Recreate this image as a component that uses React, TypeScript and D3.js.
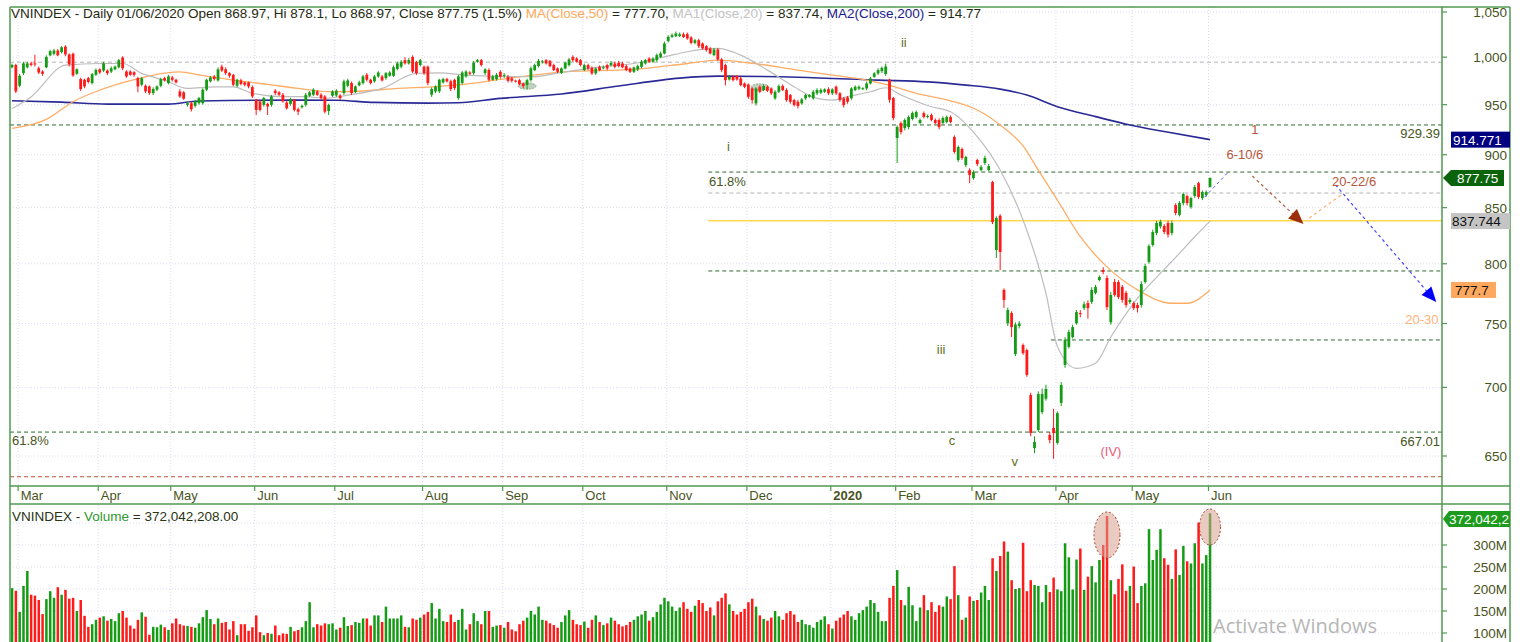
import React from "react";
import * as d3 from "d3";

type Bar = [number, number, number, number]; // open, high, low, close

// Feb 27 2019 .. May 2019
const ohlcA1: Bar[] = [
  [989.1,993,988,991.6],[991.6,993,962,963.7],[969.6,982,968,980.1],[982.9,995,981,993.3],[989.1,995,988,993.3],
  [993.3,995,990,991.6],[993.3,1002.7,990,992.2],[988.1,990,982,983.6],[984.6,986,980,982.2],[989.1,1002,988,1000.3],
  [1002,1008,1001,1006.5],[1003.7,1009,1002,1007.2],[1007.2,1009,1001,1002],[1005.5,1012,1004,1010.7],[1011.4,1013,1001,1003],
  [1003,1004,990,992.3],[1003.7,1005,979,980.4],[982.2,988,981,987],[976.6,978,964,966.2],[975.9,977,967,968.9],
  [977.6,979,972,973.5],[972.4,983,971,981.8],[981.1,988,980,986.3],[987,988,982,983.6],[985.6,995,984,993.3],
  [985.6,987,981,982.9],[984.6,990,983,988.1],[987,991,986,989.8],[989.1,998,988,996.8],[999.6,1001,986,988.1],
  [984.6,986,978,979.4],[984.6,986,980,981.1],[983.9,985,979,981.1],[977.6,979,962.7,968.9],[970.7,979,969,977.6],
  [969.6,971,962,963.7],[968.9,970,960,962],[962,968,960,966.2],[965.5,970,964,968.9],[969.6,978,968,976.6],
  [977.6,979,974,975.2],[972.4,981,971,979.4],[978.3,980,974,975.9],[975.9,977,972,973.1],[963.7,966,957,958.5],
  [962.7,964,955,956.1],[949.8,953,948,951.5],[951.5,953,943,945.3],[948.8,955,947,953.3],[951.5,958,950,956.8],
  [951.5,967,950,965.5],[965.5,977,964,975.9],[974.2,980,973,978.3],[979.4,981,975,976.6],[975.2,989,974,987],
  [989.8,992,984,985.6],[987,989,981,982.9],[982.9,984,978,980.1],[981.1,982,969,970.7],[969.6,977,968,975.9],
  [975.2,977,970,971.4],[973.1,974,969,970.7],[973.1,974,967,968.9],[968.2,970,957,958.5]
];
// Jun 2019 .. Aug 2019
const ohlcA2: Bar[] = [
  [955,956,939.4,944.6],[953.3,955,943,944.6],[949.8,958,948,956.8],[950.8,952,939.4,948.1],[949.8,960,948,958.5],
  [964.4,966,960,962],[962.7,964,959,960.2],[960.2,962,952,953.3],[952.2,954,945,946.3],[950.8,957,949,955.7],
  [955,956,943,944.6],[945.3,947,939.4,942.8],[947.4,950,946,948.8],[949.8,962,948,960.2],[959.2,964,958,962.7],
  [960.2,967,959,965.5],[963.7,965,959,960.2],[960.2,962,955,956.8],[958.5,960,941,942.8],[943.5,951,939.4,949.8],
  [959.2,965,958,963.7],[959.5,966,958,964.4],[959.5,961,955,956.8],[962,976,960,974.2],[969.6,977,968,975.2],
  [972.4,974,960,962],[963,970,962,968.9],[970,975,969,973.1],[972.4,981,971,979.4],[981.1,983,974,975.9],
  [975.9,977,971,972.4],[974.2,981,973,979.4],[979.4,985,978,983.6],[979.4,981,974,975.2],[977.6,984,976,982.9],
  [980.1,985,979,983.6],[980.1,991,979,989.1],[987.4,995,986,993.3],[989.8,997,988,995],[996.8,1000,992,993.3],
  [993.3,999,992,996.8],[1000.3,1002,983,984.6],[995,996,981,982.9],[991.6,998,990,996.8],[989.8,991,981,982.9],
  [989.8,991,970,972.4],[960.2,968,958,966.2],[963.7,970,962,968.9],[963.7,977,962,975.9],[973.1,978,972,976.6],
  [976.6,978,973,974.2],[974.2,976,964,966.2],[975.9,977,965,967.2],[956.8,981,955,979.4],[972.4,985,971,983.6],
  [979.4,986,978,984.6],[983.6,985,981,982.2],[982.9,996,981,994],[995,998,994,996.8],[996.8,998,990,991.6],
  [982.9,988,981,987],[986.3,988,974,975.9],[975.9,981,975,979.4],[976.6,983,975,981.1]
];
// Sep 2019 .. Jan 2020 (pre-Tet)
const ohlcB: Bar[] = [
  [984.3,986,977,979],[980,983,978,981],[979,981,973,974.8],[977.3,979,973,974.8],[975,976,973,974.5],
  [975.5,977,970,971.3],[972,973,967,969.3],[970.3,977,966,975.5],[975.5,990,974,988],[986.1,993,985,991.5],
  [990.4,998,989,996],[995,997,993,995.5],[996.8,998,992,993.2],[996,997,989,990.4],[991.5,993,985,986.1],
  [987.9,989,983,984.3],[983.2,989,982,987.9],[987.9,995,987,993.9],[991.5,999,990,997.5],[1000.3,1002,995,996.8],
  [998.6,1000,994,995],[996.8,998,990,991.5],[986.1,993,985,991.5],[991.5,993,986,987.9],[988.6,990,981,982.6],
  [982.6,989,981,987.9],[989.6,991,985,986.1],[988,991,987,989],[991.5,993,986,987.9],[991.5,996,990,993.9],
  [993.2,995,988,989.6],[993.9,996,989,990.4],[993.2,995,988,989.1],[990.4,992,985,986.1],[987.9,989,983,984.3],
  [984.3,990,983,988.9],[986.8,992,985,990.4],[989.6,997,988,995],[993.2,998,992,996.8],[998.6,1000,994,995],
  [995,1000,994,998.6],[996.8,1004,995,1002.2],[1000.3,1006,999,1004],[1004,1017,1003,1014.9],[1017.7,1024,1016,1022.2],
  [1022.2,1026,1021,1024.1],[1022.9,1028,1022,1026],[1023,1027,1022,1025],[1025,1027,1021,1022],[1025.2,1027,1019,1020.4],
  [1021.5,1023,1014,1015.5],[1015.5,1020,1014,1018.5],[1018.5,1020,1010,1012],[1014.9,1016,1008,1009.5],[1012,1013,1006,1007.7],
  [1009.5,1011,1003,1004],[1002.2,1010,1001,1008.4],[1008.4,1010,996,997.5],[997.5,999,984,986.1],[991.5,993,970,975.5],
  [976.2,981,975,979],[979,981,974,975.5],[979.7,981,975,976.2],[977.3,979,969,970.3],[972,973,967,968.5],
  [971,972,956,958.1],[966.8,968,951,954.7],[951.3,968,949,966.8],[968.5,970,962,963.3],[965.1,971,964,969.3],
  [968.5,970,963,964.4],[966.8,968,960,961.7],[956.5,965,955,963.3],[963.3,971,962,969.3],[969.3,971,964,965.1],
  [965.1,967,953,954.7],[959.9,961,951,953],[954.7,956,948,949.6],[953,955,946,948.6],[951.3,957,950,955.4],
  [956.5,961,955,959.9],[958.2,961,957,959.9],[956.5,965,955,963.3],[961.7,967,960,965.1],[962.4,967,961,965.1],
  [963.3,967,962,965.8],[966.1,968,960,961.7],[961.7,967,960,965.8],[968.5,970,960,961.7],[961.7,963,953,954.7],
  [956.5,958,947,949.6],[957.5,959,951,953],[956.5,968,955,966.8],[965.1,970,964,968.5],[966.5,970,965,968.5],
  [966,968,965,967],[966.8,974,965,972],[972,979,971,977.3],[979,984,978,982.6],[982.6,988,981,986.1],
  [985,990,983,988.5]
];
// Jan 22 2020 .. Jun 1 2020
const ohlcC: Bar[] = [
  [982,993,980,990],[976,977,952,955],[956.8,958,934,936.4],[916.4,929,892,927.3],[931.3,933,920,922.3],
  [926.3,936,924,934.4],[927.3,939,925,937.4],[935.4,943,934,941.4],[937.4,944,936,942.5],[931.4,936,930,934.4],
  [941.4,943,936,937.4],[937.4,940,936,938.4],[939.4,941,933,934.4],[934.4,936,930,931.4],[934.4,936,925,927.3],
  [931.4,938,930,936.4],[932.4,939,931,937.4],[937.4,939,931,932.4],[917.3,919,901,902.7],[894.9,909,893,907.5],
  [905.6,907,895,896.8],[890,899,888,897.8],[885.2,887,873,880.4],[877.6,885,876,883.3],[894.9,896,889,891],
  [885.2,890,884,888.1],[892,899,890,896.9],[885.2,891,884,889],[873.8,875,835,836.8],[812,842,805,840.6],
  [842.6,844,794.6,810.2],[777.7,779,762.6,769.3],[750.2,763,748,761],[758.5,760,739.1,747.1],[725.6,751,724,749.2],
  [748,752,746,750],[732.8,734,725,726.4],[728.8,730,708,709.5],[694.2,696,664,666.4],[655.6,664,652,660],
  [668.5,697,667,695],[681.6,699,680,695],[691.5,702,690,698.8],[664.9,667,659,661.3],[670,684,648,666.3],
  [659.3,682,658,680.8],[688.4,704,686,701.8],[717.1,739,715,736.8],[731.3,745,730,743.1],[739.1,749,738,747.1],
  [750.2,761,749,759.3],[758.5,761,755,757.6],[762.6,768,761,765.8],[766.8,769,754,762.6],[767.6,780,766,777.7],
  [775.2,782,774,780.3],[786.1,790,785,788.6],[794.6,797,791,792.9],[787.8,790,761,763.4],[751,776,749,773.5],
  [784.4,787,772,773.5],[784.4,786,770,771.8],[780.3,782,767,769.3],[775.2,777,763,765.1],[767.6,771,766,769.3],
  [766.8,768,761,762.6],[765.1,767,759,762.6],[765.1,785,763,782.7],[784.4,800,783,798.1],[801.6,817,800,815.5],
  [816.4,830,815,827.9],[827,838,825,836],[832.9,839,831,837.2],[833.3,835,826,827.9],[836,838,823,825.6],
  [827,838,825,836],[852.4,854,843,845],[843.4,856,842,854.2],[854.2,864,852,862.6],[860.7,862,852,854.2],
  [850.5,860,849,858.8],[860.7,871,859,869.1],[872.8,874,858,859.8],[858.8,866,857,864.4],[861.7,866,860,864.4],
  [868.97,878.1,868.97,877.75]
];

// Volumes in millions
const volA = [
  202,196,148,207,241,187,185,175,143,177,195,180,204,187,198,178,180,150,175,139,
  114,120,130,135,138,128,132,127,145,150,135,117,110,130,147,137,96,114,113,119,
  113,107,122,133,120,117,116,114,112,122,136,152,132,120,133,123,125,108,127,95,
  120,120,105,113,140,102,95,100,98,117,95,99,98,114,104,107,113,127,170,113,
  120,117,122,120,122,108,112,136,116,118,125,123,133,133,117,140,140,125,160,133,
  133,133,140,114,113,133,130,135,142,148,168,133,155,127,125,142,125,130,155,108,
  120,145,127,120,150,150,114,117
];
const volB = [
  118,112,125,108,104,120,128,135,150,142,160,130,128,
  122,118,112,125,140,152,130,120,118,126,112,130,140,125,118,122,135,128,120,115,
  118,125,130,138,142,150,128,136,148,165,180,172,160,150,158,170,155,148,162,175,
  168,150,158,140,172,180,190,165,150,142,148,155,170,178,160,140,132,128,135,150,
  138,130,145,150,142,125,130,120,118,112,125,130,138,120,110,128,135,142,150,138,130,145,152,160,175,168,148
];
const volC = [
  127,127,180,207,243,175,163,205,163,127,158,186,152,170,148,163,160,183,177,252,
  186,130,135,183,173,175,192,207,175,270,241,275,308,285,220,200,202,305,195,220,
  209,207,170,209,193,226,199,195,304,272,199,267,292,198,228,252,215,266,300,366,
  220,188,223,256,196,207,251,168,207,213,336,266,289,336,270,255,223,290,232,298,
  263,258,304,351,258,277,372.042208
];

const monthTicks = [2, 23, 42, 64, 85, 108, 129, 150, 172, 193, 215, 232, 252, 274, 294, 314];
const monthLabels = ["Mar", "Apr", "May", "Jun", "Jul", "Aug", "Sep", "Oct", "Nov", "Dec", "2020", "Feb", "Mar", "Apr", "May", "Jun"];
const priceTicks = [650, 700, 750, 800, 850, 900, 950, 1000, 1050];
const volTicks = [100, 150, 200, 250, 300];
const volGrid = [100, 150, 200, 250, 300, 350];

// moving averages: [bar index, value]
const ma200Pts: [number, number][] = [
  [0,954],[13,952.6],[25,950.6],[41,950.6],[49,953.7],[75,954.7],[85,954.5],[95,952.3],[109,951.6],[117,952],
  [128,956.5],[144,961],[159,969.3],[175,977.6],[185,979.7],[206,978.6],[227,975.5],[240,973.7],[250,970.3],
  [259,966.1],[266,959.9],[274,947.9],[284,937.8],[293,929.4],[302,922.8],[314,914.77]
];
const ma50Pts: [number, number][] = [
  [0,926],[9,935],[16,953],[23,965],[32,976],[40,983],[44,984.3],[49,981],[58,975.5],[67,971],[75,966.8],
  [84,963.3],[93,964.4],[101,966.8],[110,968.5],[119,971.3],[128,976.2],[145,984.3],[163,986.8],[177,993.2],
  [185,996.8],[193,994],[206,986.1],[215,980.8],[224,975.5],[229,971],[237,961.7],[246,954],[253,944.5],
  [259,929.4],[265,908.6],[269,885.2],[274,857],[280,823.7],[287,797.3],[295,777.7],[304,766.6],[308,766.6],[314,777.7]
];
const ma20Pts: [number, number][] = [
  [0,946],[5,958],[14,991.5],[23,993.2],[29,993.2],[34,982.6],[40,975.5],[46,966.8],[53,968.5],[58,968.5],
  [63,961.7],[71,958.2],[77,958.2],[82,956.5],[88,959.9],[97,966.8],[106,982.6],[112,983.2],[119,980.8],
  [128,979.4],[136,979.1],[145,984.3],[154,989.6],[163,993.2],[171,1000.3],[177,1005.9],[185,1009.5],
  [191,1002.2],[198,986.1],[205,968.5],[211,956.5],[215,954.7],[219,958.2],[225,963.3],[229,967.5],
  [233,960],[241,947.9],[246,942.8],[253,917.7],[259,885.2],[265,838.7],[271,775],[274,731.7],[279,714.6],
  [284,718.5],[288,739.2],[295,770.7],[301,791.8],[306,809.1],[310,823.7],[314,837.74]
];

const fullDashGreen = [929.39, 667.01];
const fullDashGrey = [994.6];
const fullDashRed = [635.6];
const partDashGreen = [883.3, 793.8];
const partDashGrey = [863.5];
const yellowLevel = 838;
const lateDashGreen = [736.8];

const FONT = "'Liberation Sans', Arial, sans-serif";
const FRAME = "#4f9a4f";
const AXT = "#47541c";
const GRID = "#dcdcf2";

export default function App() {
  const bars: Bar[] = [...ohlcA1, ...ohlcA2, ...ohlcB, ...ohlcC];
  const vols = [...volA, ...volB, ...volC];

  const L = 10, R = 1442, T = 7, B = 486, VT = 505, VB = 642, RR = 1510;
  const x = d3.scaleLinear().domain([0, 314]).range([12, 1210]);
  const y = d3.scaleLog().domain([650, 1050]).range([456, 12]);
  const yv = d3.scaleLinear().domain([100, 300]).range([633, 545]);

  const line = d3.line<[number, number]>().x(d => x(d[0])).y(d => y(d[1])).curve(d3.curveMonotoneX);
  const up = "#159c15", dn = "#ff1a1a";
  const fmt = d3.format(",");

  const arrowHead = (x0: number, y0: number, x1: number, y1: number, len: number, half: number) => {
    const a = Math.atan2(y1 - y0, x1 - x0);
    const bx = x1 - len * Math.cos(a), by = y1 - len * Math.sin(a);
    const px = -Math.sin(a) * half, py = Math.cos(a) * half;
    return `${x1},${y1} ${bx + px},${by + py} ${bx - px},${by - py}`;
  };

  const brownA = [[325.1, 879.5], [338.5, 835.2]];
  const orangeA = [[340, 840.5], [348.7, 862.6]];
  const blueA = [[346.9, 871.2], [373.3, 767.6]];
  const blueLead = [[312.6, 859.7], [318.8, 883.3]];

  const bx0 = x(brownA[0][0]), by0 = y(brownA[0][1]), bx1 = x(brownA[1][0]), by1 = y(brownA[1][1]);
  const ux0 = x(blueA[0][0]), uy0 = y(blueA[0][1]), ux1 = x(blueA[1][0]), uy1 = y(blueA[1][1]);

  const closeY = y(877.75);
  const volTagY = 519;

  return (
    <svg width={1520} height={642} style={{ position: "absolute", left: 0, top: 0, background: "#fff" }} fontFamily={FONT}>
      <defs>
        <clipPath id="pc"><rect x={L} y={T} width={R - L} height={B - T} /></clipPath>
        <clipPath id="vc"><rect x={L} y={VT} width={R - L} height={VB - VT + 5} /></clipPath>
        <clipPath id="rc"><rect x={R} y={0} width={RR - R} height={642} /></clipPath>
      </defs>
      <rect x={0} y={0} width={1520} height={642} fill="#fff" />

      {/* grids */}
      <g clipPath="url(#pc)">
        {priceTicks.map(p => (
          <line key={p} x1={L} x2={R} y1={y(p)} y2={y(p)} stroke={GRID} strokeDasharray="1,2" />
        ))}
        {monthTicks.map(i => (
          <line key={i} x1={x(i) - 1.5} x2={x(i) - 1.5} y1={T} y2={B} stroke={GRID} strokeDasharray="1,2" />
        ))}
      </g>
      <g clipPath="url(#vc)">
        {volGrid.map(v => (
          <line key={v} x1={L} x2={R} y1={yv(v)} y2={yv(v)} stroke={GRID} strokeDasharray="1,2" />
        ))}
        {monthTicks.map(i => (
          <line key={i} x1={x(i) - 1.5} x2={x(i) - 1.5} y1={VT} y2={VB} stroke={GRID} strokeDasharray="1,2" />
        ))}
      </g>

      {/* level lines */}
      <g clipPath="url(#pc)" strokeWidth={1}>
        {fullDashGrey.map(p => <line key={p} x1={L} x2={R} y1={y(p)} y2={y(p)} stroke="#b4b4b4" strokeDasharray="4,3" />)}
        {fullDashGreen.map(p => <line key={p} x1={L} x2={R} y1={y(p)} y2={y(p)} stroke="#2f6b2f" strokeDasharray="4,3" />)}
        {fullDashRed.map(p => <line key={p} x1={L} x2={R} y1={y(p)} y2={y(p)} stroke="#b9553a" strokeDasharray="4,3" />)}
        {partDashGreen.map(p => <line key={p} x1={x(182.5)} x2={R} y1={y(p)} y2={y(p)} stroke="#2f6b2f" strokeDasharray="4,3" />)}
        {partDashGrey.map(p => <line key={p} x1={x(182.5)} x2={R} y1={y(p)} y2={y(p)} stroke="#b4b4b4" strokeDasharray="4,3" />)}
        {lateDashGreen.map(p => <line key={p} x1={x(272.3)} x2={R} y1={y(p)} y2={y(p)} stroke="#2f6b2f" strokeDasharray="4,3" />)}
        <line x1={x(182.5)} x2={R} y1={y(yellowLevel)} y2={y(yellowLevel)} stroke="#ffd84a" strokeWidth={1.6} />
      </g>

      {/* moving averages */}
      <g clipPath="url(#pc)" fill="none">
        <path d={line(ma200Pts) || ""} stroke="#2a2a96" strokeWidth={1.6} />
        <path d={line(ma50Pts) || ""} stroke="#ffad66" strokeWidth={1.3} />
        <path d={line(ma20Pts) || ""} stroke="#bdbdbd" strokeWidth={1.2} />
      </g>

      {/* small highlight ellipses */}
      <g clipPath="url(#pc)">
        <ellipse cx={x(135)} cy={y(969.3)} rx={9} ry={3.2} fill="#b9cdb6" stroke="#8fae8a" strokeDasharray="2,1" opacity={0.9} />
        <ellipse cx={x(196)} cy={y(968)} rx={9} ry={3.5} fill="#b9cdb6" stroke="#8fae8a" strokeDasharray="2,1" opacity={0.9} />
      </g>

      {/* candles */}
      <g clipPath="url(#pc)">
        {bars.map((b, i) => {
          const [o, h, l, c] = b;
          const col = c >= o ? up : dn;
          const top = y(Math.max(o, c)), bot = y(Math.min(o, c));
          return (
            <g key={i}>
              <line x1={x(i)} x2={x(i)} y1={y(h)} y2={y(l)} stroke={col} strokeWidth={1} />
              <rect x={x(i) - 1.4} y={top} width={2.8} height={Math.max(1, bot - top)} fill={col} />
            </g>
          );
        })}
      </g>

      {/* projection arrows */}
      <g clipPath="url(#pc)">
        <line x1={x(blueLead[0][0])} y1={y(blueLead[0][1])} x2={x(blueLead[1][0])} y2={y(blueLead[1][1])} stroke="#5a5aff" strokeDasharray="3,3" />
        <line x1={bx0} y1={by0} x2={bx1 - 8} y2={by1 - 7.5} stroke="#b4603e" strokeDasharray="3,3" strokeWidth={1.2} />
        <polygon points={arrowHead(bx0, by0, bx1, by1, 15, 6.5)} fill="#9c2f08" />
        <line x1={x(orangeA[0][0])} y1={y(orangeA[0][1])} x2={x(orangeA[1][0])} y2={y(orangeA[1][1])} stroke="#ffb070" strokeDasharray="3,3" strokeWidth={1.2} />
        <line x1={ux0} y1={uy0} x2={ux1 - 7} y2={uy1 - 8} stroke="#4646ff" strokeDasharray="3,3" strokeWidth={1.2} />
        <polygon points={arrowHead(ux0, uy0, ux1, uy1, 15, 6.5)} fill="#0000ff" />
      </g>

      {/* annotation texts */}
      <g fontSize={13} clipPath="url(#pc)">
        <text x={x(233)} y={y(1011)} fill="#5e6e22">ii</text>
        <text x={x(187.4)} y={y(903.6)} fill="#5e6e22">i</text>
        <text x={x(242.4)} y={y(725.7)} fill="#5e6e22">iii</text>
        <text x={x(245.5)} y={y(657.7)} fill="#5e6e22">c</text>
        <text x={x(262)} y={y(643)} fill="#5e6e22">v</text>
        <text x={x(285.3)} y={y(650)} fill="#ea5a80">(IV)</text>
        <text x={x(324.8)} y={y(920.3)} fill="#b5543c">1</text>
        <text x={x(318.3)} y={y(895.9)} fill="#b5543c">6-10/6</text>
        <text x={x(346)} y={y(870)} fill="#b5543c">20-22/6</text>
        <text x={x(365.2)} y={y(749.6)} fill="#ffb47a">20-30</text>
        <text x={x(182.7)} y={y(870)} fill={AXT}>61.8%</text>
        <text x={x(0)} y={y(657.7)} fill={AXT}>61.8%</text>
        <text x={R - 2} y={y(929.39) + 13} fill={AXT} textAnchor="end">929.39</text>
        <text x={R - 2} y={y(667.01) + 14} fill={AXT} textAnchor="end">667.01</text>
      </g>

      {/* header */}
      <text x={11} y={18} fontSize={13.5} fill="#1f2a10">
        <tspan>VNINDEX - Daily 01/06/2020 Open 868.97, Hi 878.1, Lo 868.97, Close 877.75 (1.5%) </tspan>
        <tspan fill="#ffa85a">MA(Close,50)</tspan>
        <tspan> = 777.70, </tspan>
        <tspan fill="#c4c4c4">MA1(Close,20)</tspan>
        <tspan> = 837.74, </tspan>
        <tspan fill="#1a1a8a">MA2(Close,200)</tspan>
        <tspan> = 914.77</tspan>
      </text>

      {/* volume bars */}
      <g clipPath="url(#vc)">
        {vols.map((v, i) => {
          const b = bars[i];
          const col = b && b[3] >= b[0] ? up : dn;
          const top = yv(v);
          return <rect key={i} x={x(i) - 1.2} y={top} width={2.5} height={VB + 5 - top} fill={col} />;
        })}
        <ellipse cx={x(287)} cy={535} rx={13} ry={23} fill="#d9a090" fillOpacity={0.55} stroke="#a0442a" strokeDasharray="2,2" />
        <ellipse cx={x(314)} cy={527} rx={10.5} ry={18} fill="#d9a090" fillOpacity={0.55} stroke="#a0442a" strokeDasharray="2,2" />
      </g>
      <text x={12} y={521} fontSize={13.5} fill="#2a3414">
        <tspan>VNINDEX - </tspan>
        <tspan fill="#2e9a2e">Volume</tspan>
        <tspan> = 372,042,208.00</tspan>
      </text>
      <text x={1213} y={633} fontSize={20} fill="#b6b6b6" fontFamily="'Open Sans', 'Noto Sans', sans-serif">Activate Windows</text>

      {/* frames */}
      <g stroke={FRAME} strokeWidth={1.5} fill="none">
        <line x1={L} x2={RR} y1={T} y2={T} />
        <line x1={L} x2={L} y1={T} y2={VB} />
        <line x1={R} x2={R} y1={T} y2={VB} />
        <line x1={RR} x2={RR} y1={T} y2={VB} />
        <line x1={L} x2={RR} y1={B} y2={B} />
        <line x1={L} x2={RR} y1={504} y2={504} />
      </g>

      {/* right price axis */}
      <g fontSize={13.5} fill={AXT}>
        {priceTicks.map(p => (
          <g key={p}>
            <line x1={R} x2={R + 5} y1={y(p)} y2={y(p)} stroke={FRAME} strokeWidth={1.2} />
            <text x={1507} y={y(p) + 5} textAnchor="end">{fmt(p)}</text>
          </g>
        ))}
      </g>
      <g fontSize={13.5} fill={AXT}>
        {volTicks.map(v => (
          <g key={v}>
            <line x1={R} x2={R + 5} y1={yv(v)} y2={yv(v)} stroke={FRAME} strokeWidth={1.2} />
            <text x={1507} y={yv(v) + 5} textAnchor="end">{v}M</text>
          </g>
        ))}
      </g>

      {/* value tags */}
      <g fontSize={13.5}>
        <rect x={1451} y={y(914.77) - 8} width={59} height={16} fill="#000080" />
        <text x={1453} y={y(914.77) + 5} fill="#fff">914.771</text>
        <polygon points={`${R + 1},${closeY} ${1451},${closeY - 8} ${1504},${closeY - 8} ${1504},${closeY + 8} ${1451},${closeY + 8}`} fill="#0b640b" />
        <text x={1457} y={closeY + 5} fill="#fff">877.75</text>
        <rect x={1451} y={y(837.74) - 8} width={59} height={16} fill="#c4c4c4" />
        <text x={1452} y={y(837.74) + 5} fill="#111">837.744</text>
        <rect x={1451} y={y(777.7) - 8} width={45} height={16} fill="#ffa860" />
        <text x={1455} y={y(777.7) + 5} fill="#111">777.7</text>
        <polygon points={`${R + 1},${volTagY} ${1449},${volTagY - 8} ${1510},${volTagY - 8} ${1510},${volTagY + 8} ${1449},${volTagY + 8}`} fill="#1e9b1e" />
        <text x={1449} y={volTagY + 5} fill="#fff">372,042,2</text>
      </g>

      {/* date axis */}
      <g fontSize={13} fill={AXT}>
        {monthTicks.map((i, k) => (
          <g key={k}>
            <line x1={x(i) - 1.5} x2={x(i) - 1.5} y1={B} y2={B + 5} stroke={FRAME} strokeWidth={1.2} />
            <text x={x(i) + 1} y={B + 14} fontWeight={monthLabels[k] === "2020" ? "bold" : "normal"}>{monthLabels[k]}</text>
          </g>
        ))}
      </g>
    </svg>
  );
}
